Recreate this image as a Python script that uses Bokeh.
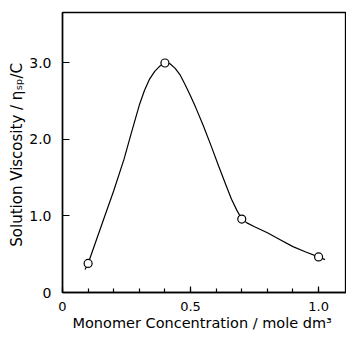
from bokeh.plotting import figure
from bokeh.models import FixedTicker, Range1d
from bokeh.embed import file_html
from bokeh.resources import INLINE

# measured data points
point_x = [0.1, 0.4, 0.7, 1.0]
point_y = [0.38, 3.0, 0.96, 0.465]

# hand-drawn smooth curve
curve_x = [0.088, 0.10, 0.16, 0.20, 0.24, 0.27, 0.30, 0.32, 0.34, 0.36, 0.38, 0.40,
           0.41, 0.42, 0.44, 0.46, 0.48, 0.50, 0.52, 0.55, 0.58, 0.61, 0.64, 0.66,
           0.68, 0.70, 0.72, 0.75, 0.80, 0.85, 0.90, 0.95, 1.00, 1.025]
curve_y = [0.30, 0.38, 0.95, 1.33, 1.74, 2.10, 2.45, 2.64, 2.79, 2.89, 2.96, 2.995,
           3.00, 2.99, 2.93, 2.84, 2.71, 2.57, 2.42, 2.18, 1.92, 1.65, 1.39, 1.22,
           1.08, 0.96, 0.91, 0.86, 0.78, 0.69, 0.60, 0.53, 0.465, 0.43]

x_ticks = [0, 0.5, 1.0]
x_tick_labels = ["0", "0.5", "1.0"]
x_minor_ticks = [0.1, 0.2, 0.3, 0.4, 0.6, 0.7, 0.8, 0.9]
y_ticks = [0, 1, 2, 3]
y_tick_labels = ["0", "1.0", "2.0", "3.0"]

x_label = "Monomer  Concentration / mole dm\u00b3"
y_label = "Solution  Viscosity / \u03b7\u209b\u209a/C"

FONT = "DejaVu Sans"

p = figure(frame_width=284, frame_height=280,
           min_border_left=62, min_border_right=0, min_border_top=12, min_border_bottom=42,
           x_range=Range1d(0, 1.109), y_range=Range1d(0, 3.66),
           output_backend="svg", toolbar_location=None)

p.xgrid.visible = False
p.ygrid.visible = False
p.outline_line_color = "black"
p.outline_line_width = 1.3
p.background_fill_color = "white"
p.border_fill_color = "white"

p.line(curve_x, curve_y, line_color="black", line_width=1.2)
p.scatter(point_x, point_y, marker="circle", size=8, fill_color="white",
          line_color="black", line_width=1.2)

xa = p.xaxis[0]
xa.ticker = FixedTicker(ticks=x_ticks, minor_ticks=x_minor_ticks + x_ticks)
xa.major_label_overrides = {t: l for t, l in zip(x_ticks, x_tick_labels)}
xa.major_tick_in = 6
xa.major_tick_out = 0
xa.minor_tick_in = 4
xa.minor_tick_out = 0
xa.axis_line_width = 1.5
xa.major_tick_line_width = 1.2
xa.minor_tick_line_width = 1.2
xa.major_label_standoff = 9
xa.major_label_text_font = FONT
xa.major_label_text_font_size = "13px"
xa.major_label_text_color = "black"
xa.axis_label = x_label
xa.axis_label_text_font = FONT
xa.axis_label_text_font_size = "14.5px"
xa.axis_label_text_font_style = "normal"
xa.axis_label_text_color = "black"
xa.axis_label_standoff = 1

ya = p.yaxis[0]
ya.ticker = FixedTicker(ticks=y_ticks, minor_ticks=[])
ya.major_label_overrides = {t: l for t, l in zip(y_ticks, y_tick_labels)}
ya.major_tick_in = 7
ya.major_tick_out = 0
ya.minor_tick_in = 0
ya.minor_tick_out = 0
ya.axis_line_width = 1.5
ya.major_tick_line_width = 1.2
ya.major_label_standoff = 11
ya.major_label_text_font = FONT
ya.major_label_text_font_size = "14px"
ya.major_label_text_color = "black"
ya.axis_label = y_label
ya.axis_label_text_font = FONT
ya.axis_label_text_font_size = "15px"
ya.axis_label_text_font_style = "normal"
ya.axis_label_text_color = "black"
ya.axis_label_standoff = 0

open("out.html", "w").write(file_html(p, INLINE))
